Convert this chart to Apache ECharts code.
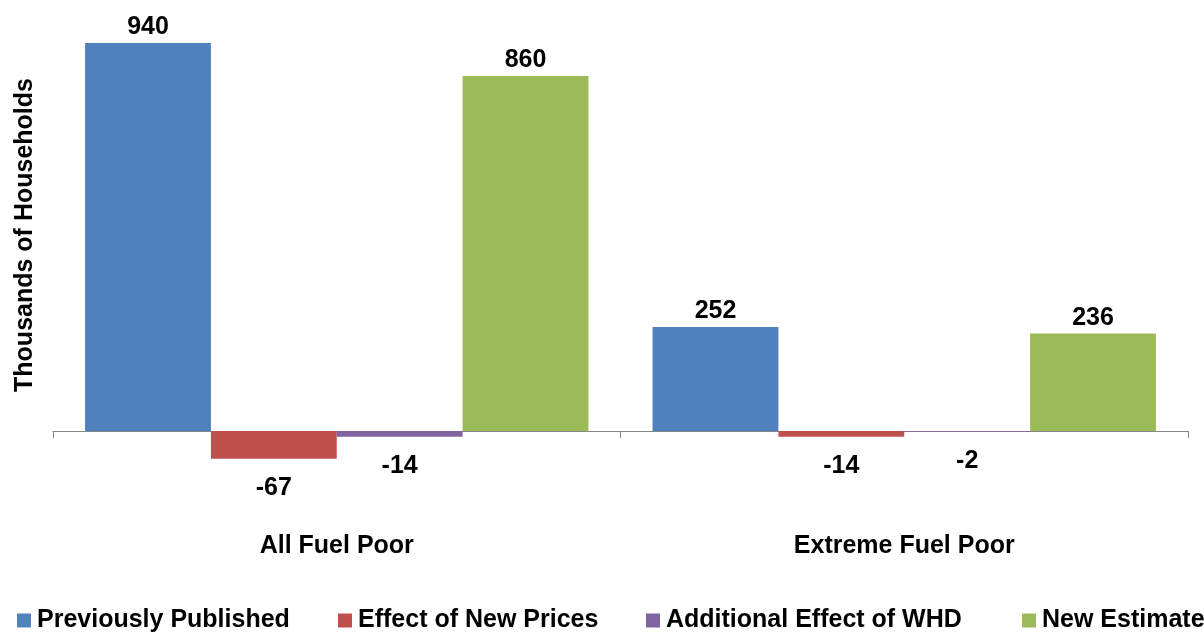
<!DOCTYPE html>
<html>
<head>
<meta charset="utf-8">
<script src="https://cdn.jsdelivr.net/npm/echarts@6/dist/echarts.min.js"></script>
<style>
  html, body { margin: 0; padding: 0; background: #ffffff; }
  #chart { width: 1204px; height: 632px; }
</style>
</head>
<body>
<div id="chart"></div>
<script>
// Fuel poverty estimates, thousands of households
const categories = ['All Fuel Poor', 'Extreme Fuel Poor'];
const seriesNames = ['Previously Published', 'Effect of New Prices', 'Additional Effect of WHD', 'New Estimate'];
const previouslyPublished = [940, 252];
const effectOfNewPrices = [-67, -14];
const additionalEffectWHD = [-14, -2];
const newEstimate = [860, 236];

const seriesValues = [previouslyPublished, effectOfNewPrices, additionalEffectWHD, newEstimate];
const colors = ['#4F81BD', '#C0504D', '#8064A2', '#9BBB59'];
const legendLeft = [12, 333, 641, 1017];

const FONT = 'Liberation Sans, Arial, sans-serif';
const FS = 25;

function toItems(values) {
  return values.map(v => ({
    value: v,
    label: {
      position: v < 0 ? 'bottom' : 'top',
      distance: v < 0 ? 17 : 3
    }
  }));
}

const chart = echarts.init(document.getElementById('chart'), null, { renderer: 'canvas' });

const option = {
  animation: false,
  backgroundColor: '#ffffff',
  color: colors,
  grid: { left: 53, right: 16, top: 43, bottom: 159.7, containLabel: false },
  legend: seriesNames.map((name, i) => ({
    data: [name],
    left: legendLeft[i],
    top: 603,
    icon: 'rect',
    itemWidth: 14,
    itemHeight: 14,
    selectedMode: false,
    textStyle: { fontFamily: FONT, fontSize: FS, fontWeight: 'bold', color: '#000000', padding: [0, 0, 0, 1] }
  })),
  xAxis: {
    type: 'category',
    data: categories,
    axisLine: { onZero: true, lineStyle: { color: '#868686', width: 1 } },
    axisTick: { show: true, length: 7, lineStyle: { color: '#868686' } },
    axisLabel: { margin: 61, fontFamily: FONT, fontSize: FS, fontWeight: 'bold', color: '#000000' },
    splitLine: { show: false }
  },
  yAxis: {
    type: 'value',
    min: -100,
    max: 940,
    show: false,
    splitLine: { show: false }
  },
  graphic: [{
    type: 'text',
    x: 25,
    y: 235,
    rotation: Math.PI / 2,
    style: {
      text: 'Thousands of Households',
      fontFamily: FONT,
      fontSize: FS,
      fontWeight: 'bold',
      fill: '#000000',
      align: 'center',
      verticalAlign: 'middle'
    }
  }],
  series: seriesNames.map((name, i) => ({
    name: name,
    type: 'bar',
    data: toItems(seriesValues[i]),
    barGap: '0%',
    barCategoryGap: '11.3%',
    itemStyle: { color: colors[i] },
    label: {
      show: true,
      fontFamily: FONT,
      fontSize: FS,
      fontWeight: 'bold',
      color: '#000000'
    }
  }))
};

chart.setOption(option);
</script>
</body>
</html>
